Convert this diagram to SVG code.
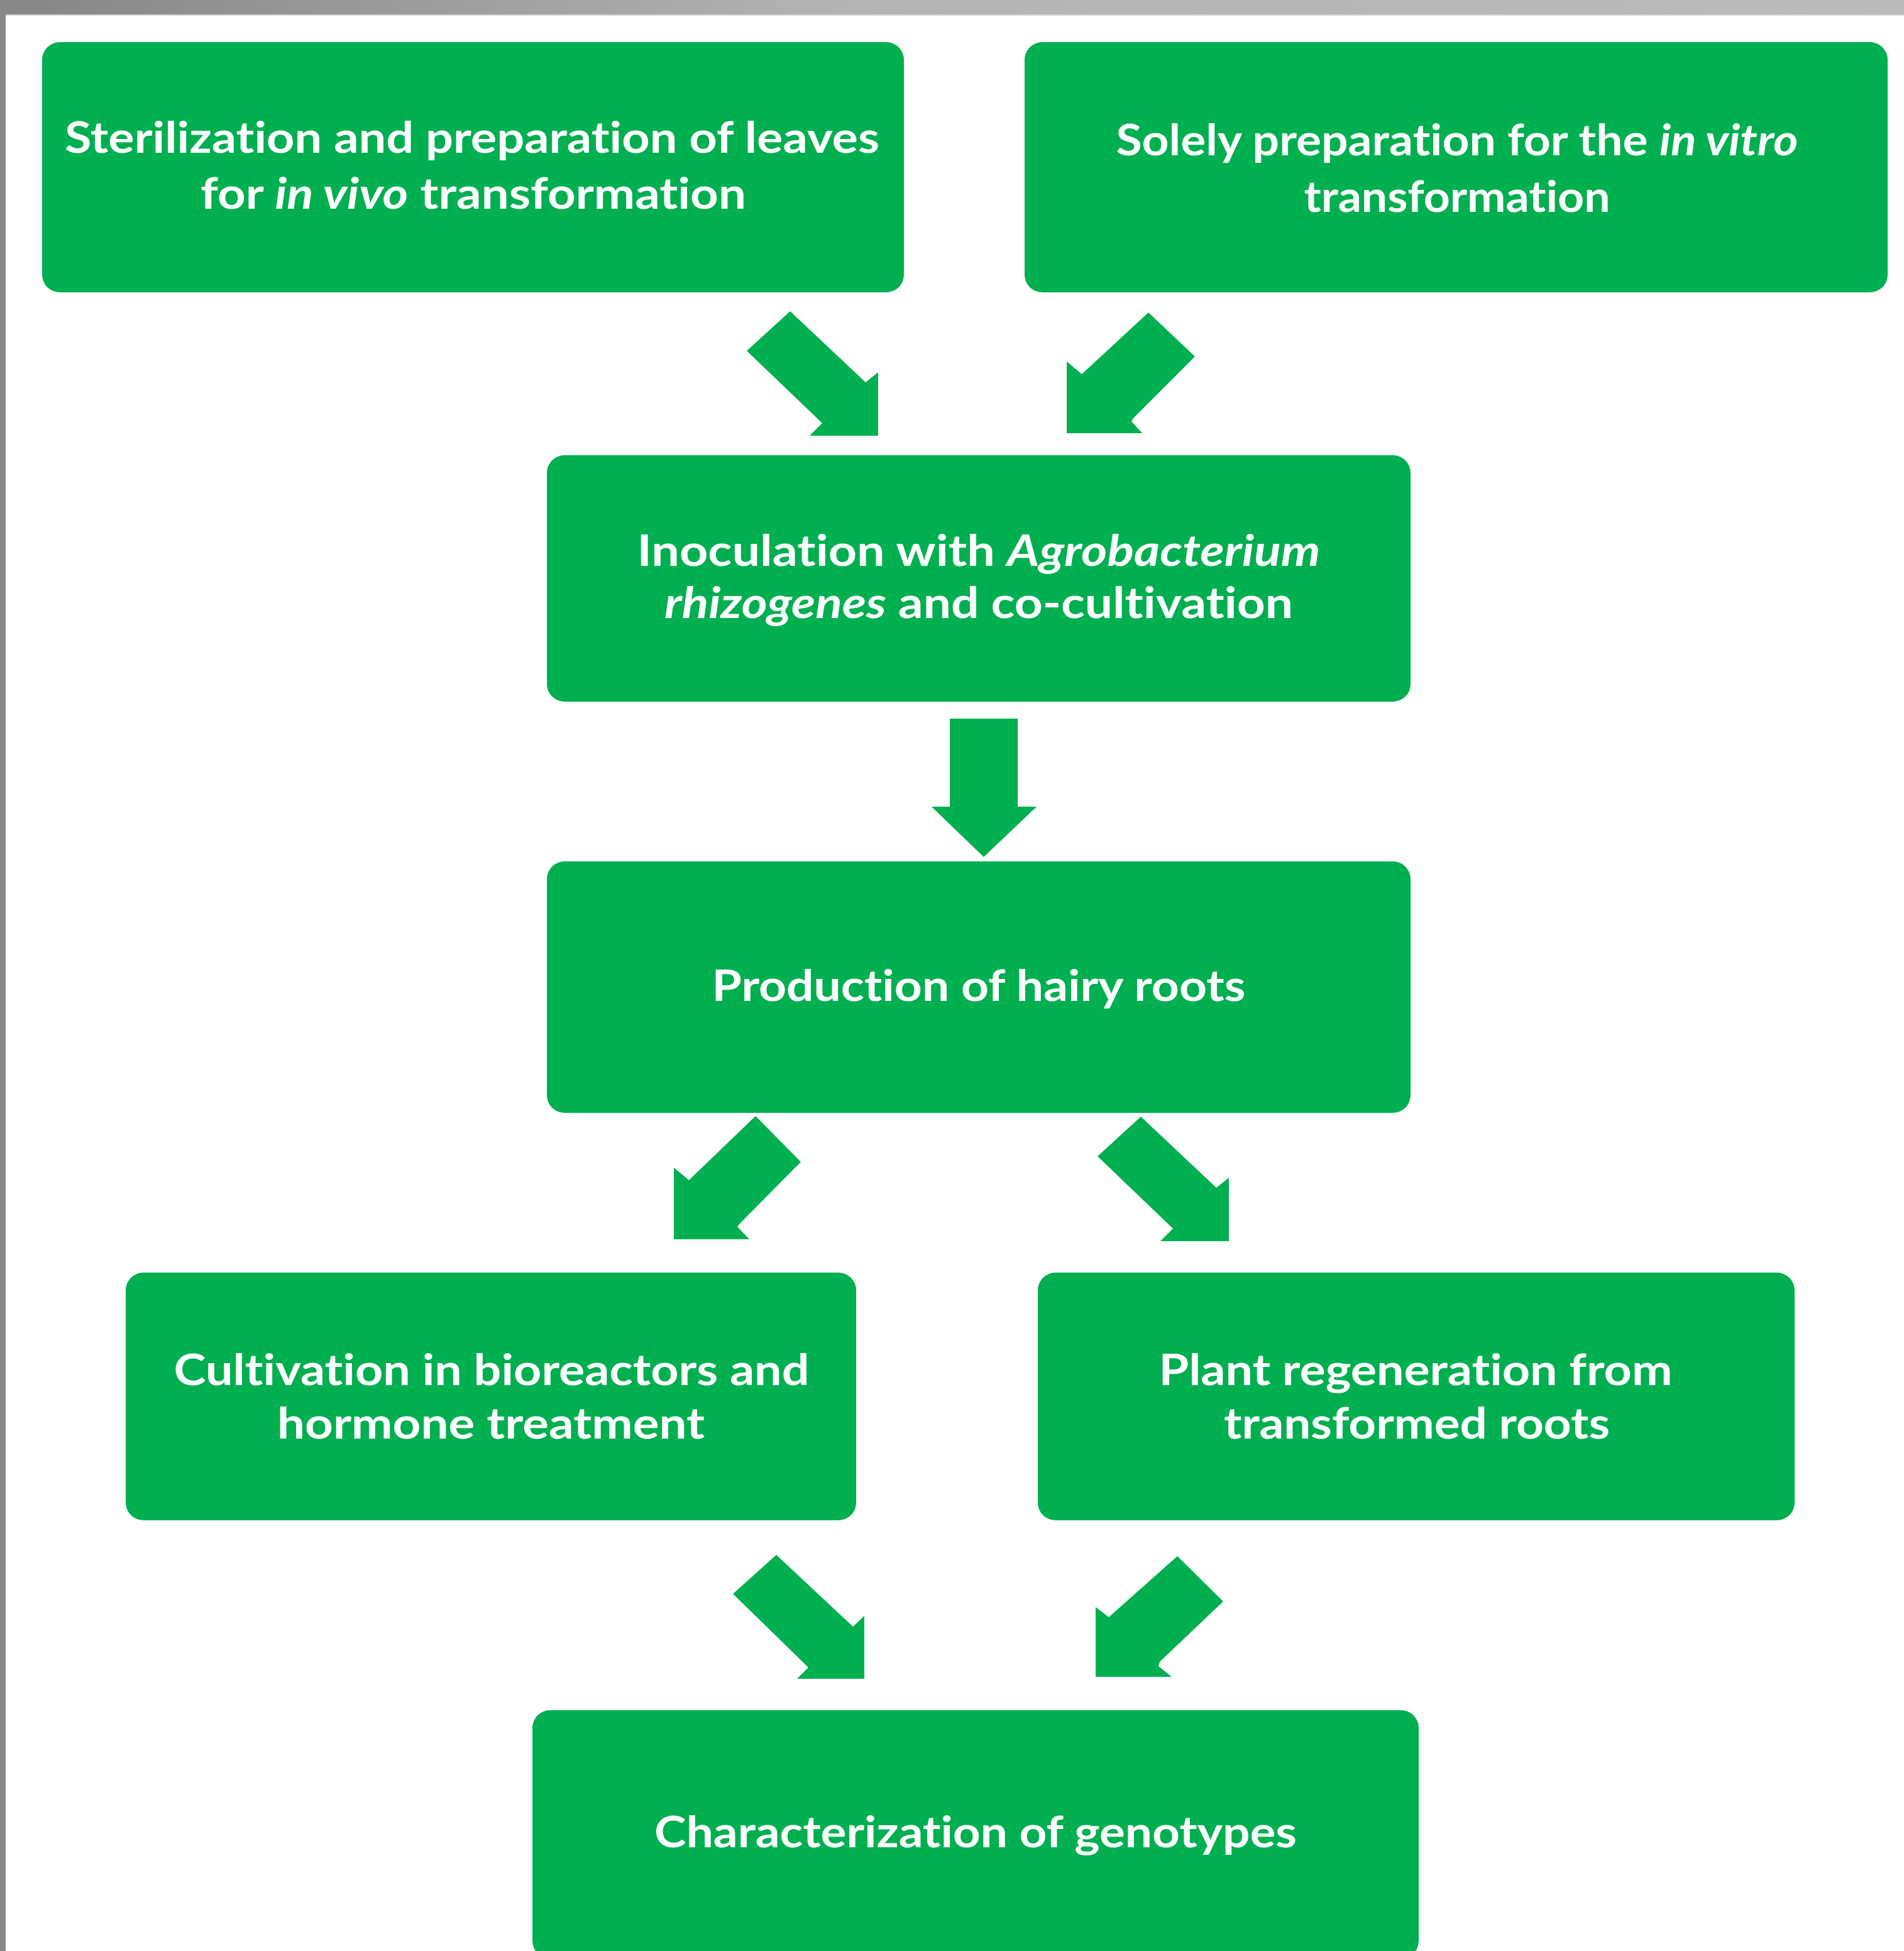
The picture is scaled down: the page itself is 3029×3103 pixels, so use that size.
<svg xmlns="http://www.w3.org/2000/svg" width="3029" height="3103" viewBox="0 0 3029 3103">
<defs>
<linearGradient id="topbar" x1="0" y1="0" x2="1" y2="0">
<stop offset="0" stop-color="#868686"/>
<stop offset="0.45" stop-color="#b4b4b4"/>
<stop offset="1" stop-color="#bbbbbb"/>
</linearGradient>
</defs>
<style>
.box{fill:#00AF50;}
.arrow{fill:#00AF50;}
.lbl{fill:#ffffff;font-family:Lato,"Open Sans","Liberation Sans",sans-serif;font-weight:700;font-size:69px;text-anchor:middle;font-variant-ligatures:none;font-feature-settings:"liga" 0,"clig" 0;}
.it{font-style:italic;}
</style>
<rect x="0" y="0" width="3029" height="3103" fill="#ffffff"/>
<rect x="0" y="0" width="3029" height="24" fill="url(#topbar)"/>
<rect x="0" y="23" width="3029" height="2" fill="#d8d8d8"/>
<rect x="0" y="0" width="9" height="3103" fill="#888888"/>

<g id="connectors">
<polygon class="arrow" points="1257,495 1188,558 1308,673 1288,693 1397,693 1397,592 1377,608"/>
<polygon class="arrow" points="1827,497 1901,567 1803,665 1800,670 1817,689 1697,689 1697,575 1721,595"/>
<polygon class="arrow" points="1511,1143 1619,1143 1619,1283 1649,1283 1565,1363 1482,1283 1511,1283"/>
<polygon class="arrow" points="1202,1775 1274,1848 1178,1945 1173,1951 1192,1971 1072,1971 1072,1857 1096,1877"/>
<polygon class="arrow" points="1815,1776 1746,1839 1866,1954 1846,1974 1955,1974 1955,1873 1935,1889"/>
<polygon class="arrow" points="1235,2473 1166,2535 1286,2652 1268,2670 1375,2670 1375,2570 1357,2587"/>
<polygon class="arrow" points="1873,2475 1946,2547 1845,2643 1843,2650 1864,2667 1743,2667 1743,2556 1764,2572"/>
</g>

<g id="node-sterilization">
<rect class="box" x="67" y="67" width="1371" height="398" rx="28"/>
<text class="lbl" x="751" y="243" textLength="1296" lengthAdjust="spacingAndGlyphs">Sterilization and preparation of leaves</text>
<text class="lbl" x="753" y="332" textLength="868" lengthAdjust="spacingAndGlyphs">for <tspan class="it">in vivo</tspan> transformation</text>
</g>

<g id="node-invitro">
<rect class="box" x="1630" y="67" width="1373" height="398" rx="28"/>
<text class="lbl" x="2318" y="247" textLength="1085" lengthAdjust="spacingAndGlyphs">Solely preparation for the <tspan class="it">in vitro</tspan></text>
<text class="lbl" x="2318" y="337" textLength="487" lengthAdjust="spacingAndGlyphs">transformation</text>
</g>

<g id="node-inoculation">
<rect class="box" x="870" y="724" width="1374" height="392" rx="28"/>
<text class="lbl" x="1557" y="900" textLength="1087" lengthAdjust="spacingAndGlyphs">Inoculation with <tspan class="it">Agrobacterium</tspan></text>
<text class="lbl" x="1557" y="983" textLength="1000" lengthAdjust="spacingAndGlyphs"><tspan class="it">rhizogenes</tspan> and co-cultivation</text>
</g>

<g id="node-hairyroots">
<rect class="box" x="870" y="1370" width="1374" height="400" rx="28"/>
<text class="lbl" x="1557" y="1592" textLength="849" lengthAdjust="spacingAndGlyphs">Production of hairy roots</text>
</g>

<g id="node-bioreactors">
<rect class="box" x="200" y="2024" width="1162" height="394" rx="28"/>
<text class="lbl" x="782" y="2203" textLength="1011" lengthAdjust="spacingAndGlyphs">Cultivation in bioreactors and</text>
<text class="lbl" x="781" y="2288" textLength="680" lengthAdjust="spacingAndGlyphs">hormone treatment</text>
</g>

<g id="node-regeneration">
<rect class="box" x="1651" y="2024" width="1204" height="394" rx="28"/>
<text class="lbl" x="2252" y="2203" textLength="817" lengthAdjust="spacingAndGlyphs">Plant regeneration from</text>
<text class="lbl" x="2254" y="2288" textLength="614" lengthAdjust="spacingAndGlyphs">transformed roots</text>
</g>

<g id="node-characterization">
<rect class="box" x="847" y="2720" width="1410" height="395" rx="28"/>
<text class="lbl" x="1552" y="2938" textLength="1022" lengthAdjust="spacingAndGlyphs">Characterization of genotypes</text>
</g>
</svg>
